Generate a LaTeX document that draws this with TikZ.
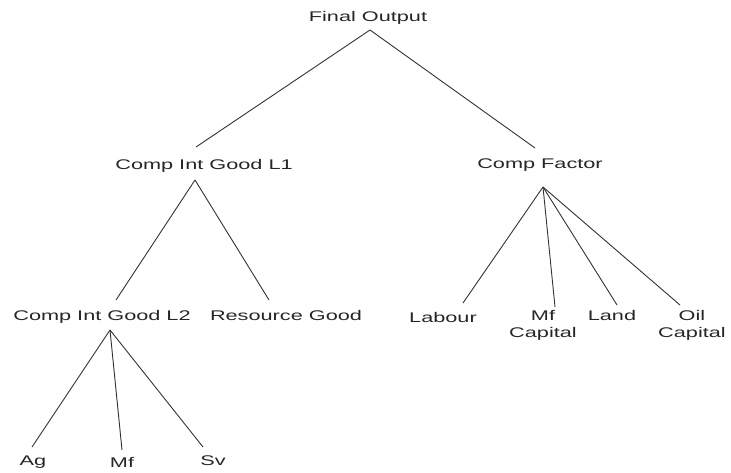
\documentclass[tikz,border=0pt]{standalone}
\usepackage{fontspec}
\setmainfont{Liberation Sans}[FakeStretch=1.55]
\begin{document}
\begin{tikzpicture}[x=1pt,y=-1pt,
  lbl/.style={inner sep=0pt,anchor=base,font=\fontsize{14}{17}\selectfont,text=black!85},
  lbl2/.style={lbl,align=center},
  edge/.style={draw=black!80,line width=0.9pt}]
\useasboundingbox (0,0) rectangle (731,473);
% labels
\node[lbl] (fo) at (368,22) {Final Output};
\node[lbl] (l1) at (204,170) {Comp Int Good L1};
\node[lbl] (cf) at (540,169) {Comp Factor};
\node[lbl] (l2) at (102,320) {Comp Int Good L2};
\node[lbl] (rg) at (286,320) {Resource Good};
\node[lbl] (lab) at (443,322) {Labour};
\node[lbl2] (mfc) at (543,337) {Mf\\Capital};
\node[lbl] (land) at (612,320) {Land};
\node[lbl2] (oil) at (692,337) {Oil\\Capital};
\node[lbl] (ag) at (33,465) {Ag};
\node[lbl] (mf) at (122,467) {Mf};
\node[lbl] (sv) at (213,465) {Sv};
% connector ends
\coordinate (fo-a) at (370,30);
\coordinate (l1-t) at (196,147);
\coordinate (cf-t) at (535,148);
\coordinate (l1-a) at (195,180);
\coordinate (l2-t) at (116,300);
\coordinate (rg-t) at (269,300);
\coordinate (cf-a) at (543,187);
\coordinate (lab-t) at (463,303);
\coordinate (mfc-t) at (555,307);
\coordinate (land-t) at (617,305);
\coordinate (oil-t) at (680,305);
\coordinate (l2-a) at (110,330);
\coordinate (ag-t) at (32,447);
\coordinate (mf-t) at (122,450);
\coordinate (sv-t) at (203,447);
% connectors
\draw[edge] (fo-a) -- (l1-t);
\draw[edge] (fo-a) -- (cf-t);
\draw[edge] (l1-a) -- (l2-t);
\draw[edge] (l1-a) -- (rg-t);
\draw[edge] (cf-a) -- (lab-t);
\draw[edge] (cf-a) -- (mfc-t);
\draw[edge] (cf-a) -- (land-t);
\draw[edge] (cf-a) -- (oil-t);
\draw[edge] (l2-a) -- (ag-t);
\draw[edge] (l2-a) -- (mf-t);
\draw[edge] (l2-a) -- (sv-t);
\end{tikzpicture}
\end{document}
